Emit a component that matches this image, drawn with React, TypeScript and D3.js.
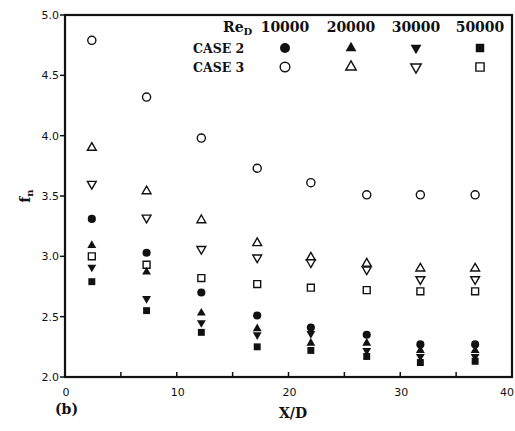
import { useEffect, useRef } from "react";
import * as d3 from "d3";

// X/D stations
const xStations = [2.4, 7.3, 12.2, 17.2, 22, 27, 31.8, 36.7];

// CASE 2 (filled markers)
const case2Re10000 = [3.31, 3.03, 2.7, 2.51, 2.41, 2.35, 2.27, 2.27];
const case2Re20000 = [3.09, 2.87, 2.53, 2.4, 2.28, 2.28, 2.22, 2.22];
const case2Re30000 = [2.91, 2.65, 2.45, 2.35, 2.36, 2.22, 2.17, 2.17];
const case2Re50000 = [2.79, 2.55, 2.37, 2.25, 2.22, 2.17, 2.12, 2.13];

// CASE 3 (open markers)
const case3Re10000 = [4.79, 4.32, 3.98, 3.73, 3.61, 3.51, 3.51, 3.51];
const case3Re20000 = [3.9, 3.54, 3.3, 3.11, 2.99, 2.94, 2.9, 2.9];
const case3Re30000 = [3.6, 3.32, 3.06, 2.99, 2.95, 2.89, 2.81, 2.81];
const case3Re50000 = [3.0, 2.93, 2.82, 2.77, 2.74, 2.72, 2.71, 2.71];

const reLabels = ["10000", "20000", "30000", "50000"];
const xTicks = [0, 10, 20, 30, 40];
const yTicks = [2.0, 2.5, 3.0, 3.5, 4.0, 4.5, 5.0];

const W = 515;
const H = 431;
const margin = { top: 15, right: 3, bottom: 54, left: 65 };

const symbolFor = (i: number, scale = 1) => {
  const shapes = [d3.symbolCircle, d3.symbolTriangle, d3.symbolTriangle, d3.symbolSquare];
  const sizes = [52, 34, 34, 48];
  return d3.symbol().type(shapes[i]).size(sizes[i] * scale)();
};
const rotFor = (i: number) => (i === 2 ? 180 : 0);

export default function App() {
  const ref = useRef<SVGSVGElement>(null);

  useEffect(() => {
    const svg = d3.select(ref.current);
    svg.selectAll("*").remove();

    const x = d3.scaleLinear().domain([0, 40]).range([margin.left, W - margin.right]);
    const y = d3.scaleLinear().domain([2, 5]).range([H - margin.bottom, margin.top]);

    const g = svg.append("g");

    // frame
    g.append("rect")
      .attr("x", x(0))
      .attr("y", y(5))
      .attr("width", x(40) - x(0))
      .attr("height", y(2) - y(5))
      .attr("fill", "none")
      .attr("stroke", "#111")
      .attr("stroke-width", 2.2);

    // x ticks (inward, every 5)
    d3.range(5, 40, 5).forEach((t) => {
      g.append("line")
        .attr("x1", x(t)).attr("x2", x(t))
        .attr("y1", y(2)).attr("y2", y(2) - 5)
        .attr("stroke", "#111").attr("stroke-width", 1.5);
    });
    xTicks.forEach((t) => {
      const last = t === 40;
      g.append("text")
        .attr("x", last ? W - 1 : x(t) + 1)
        .attr("y", y(2) + 19)
        .attr("text-anchor", last ? "end" : "middle")
        .attr("font-family", "DejaVu Sans, sans-serif")
        .attr("font-size", 11)
        .attr("fill", "#111")
        .text(t);
    });

    // y ticks (outward)
    yTicks.forEach((t) => {
      g.append("line")
        .attr("x1", x(0) - 5).attr("x2", x(0))
        .attr("y1", y(t)).attr("y2", y(t))
        .attr("stroke", "#111").attr("stroke-width", 1.5);
      g.append("text")
        .attr("x", x(0) - 6)
        .attr("y", y(t) + 4)
        .attr("text-anchor", "end")
        .attr("font-family", "DejaVu Sans, sans-serif")
        .attr("font-size", 11)
        .attr("fill", "#111")
        .text(t.toFixed(1));
    });

    // axis labels
    const yl = g.append("text")
      .attr("transform", `translate(30,${y(3.5)}) rotate(-90)`)
      .attr("text-anchor", "middle")
      .attr("font-family", "DejaVu Serif, serif")
      .attr("font-weight", "bold")
      .attr("font-size", 14)
      .attr("fill", "#111");
    yl.append("tspan").text("f");
    yl.append("tspan").attr("font-size", 10).attr("dy", 3).text("n");

    g.append("text")
      .attr("x", 293).attr("y", 418)
      .attr("text-anchor", "middle")
      .attr("font-family", "DejaVu Serif, serif")
      .attr("font-weight", "bold")
      .attr("font-size", 14)
      .attr("fill", "#111")
      .text("X/D");

    g.append("text")
      .attr("x", 55).attr("y", 414)
      .attr("font-family", "DejaVu Serif, serif")
      .attr("font-weight", "bold")
      .attr("font-size", 14)
      .attr("fill", "#111")
      .text("(b)");

    // data
    const case2 = [case2Re10000, case2Re20000, case2Re30000, case2Re50000];
    const case3 = [case3Re10000, case3Re20000, case3Re30000, case3Re50000];

    case3.forEach((vals, i) => {
      g.append("g")
        .selectAll("path")
        .data(vals)
        .join("path")
        .attr("d", symbolFor(i))
        .attr("transform", (d, j) => `translate(${x(xStations[j])},${y(d)}) rotate(${rotFor(i)})`)
        .attr("fill", "white")
        .attr("stroke", "#111")
        .attr("stroke-width", 1.4);
    });
    case2.forEach((vals, i) => {
      g.append("g")
        .selectAll("path")
        .data(vals)
        .join("path")
        .attr("d", symbolFor(i))
        .attr("transform", (d, j) => `translate(${x(xStations[j])},${y(d)}) rotate(${rotFor(i)})`)
        .attr("fill", "#111");
    });

    // legend
    const legX = [285, 351, 416, 480];
    const lg = g.append("g")
      .attr("font-family", "DejaVu Serif, serif")
      .attr("font-weight", "bold")
      .attr("fill", "#111");
    const re = lg.append("text").attr("x", 223).attr("y", 32).attr("font-size", 14);
    re.append("tspan").text("Re");
    re.append("tspan").attr("font-size", 10).attr("dy", 3).text("D");
    reLabels.forEach((r, i) => {
      lg.append("text")
        .attr("x", legX[i]).attr("y", 32)
        .attr("text-anchor", "middle")
        .attr("font-size", 14)
        .text(r);
      lg.append("path")
        .attr("d", symbolFor(i, 1.5))
        .attr("transform", `translate(${legX[i]},48) rotate(${rotFor(i)})`)
        .attr("fill", "#111");
      lg.append("path")
        .attr("d", symbolFor(i, 1.4))
        .attr("transform", `translate(${legX[i]},67) rotate(${rotFor(i)})`)
        .attr("fill", "white")
        .attr("stroke", "#111")
        .attr("stroke-width", 1.4);
    });
    lg.append("text").attr("x", 193).attr("y", 53).attr("font-size", 12.5).text("CASE 2");
    lg.append("text").attr("x", 193).attr("y", 72).attr("font-size", 12.5).text("CASE 3");
  }, []);

  return (
    <svg
      ref={ref}
      width={W}
      height={H}
      style={{ position: "absolute", left: 0, top: 0, background: "white" }}
    />
  );
}
